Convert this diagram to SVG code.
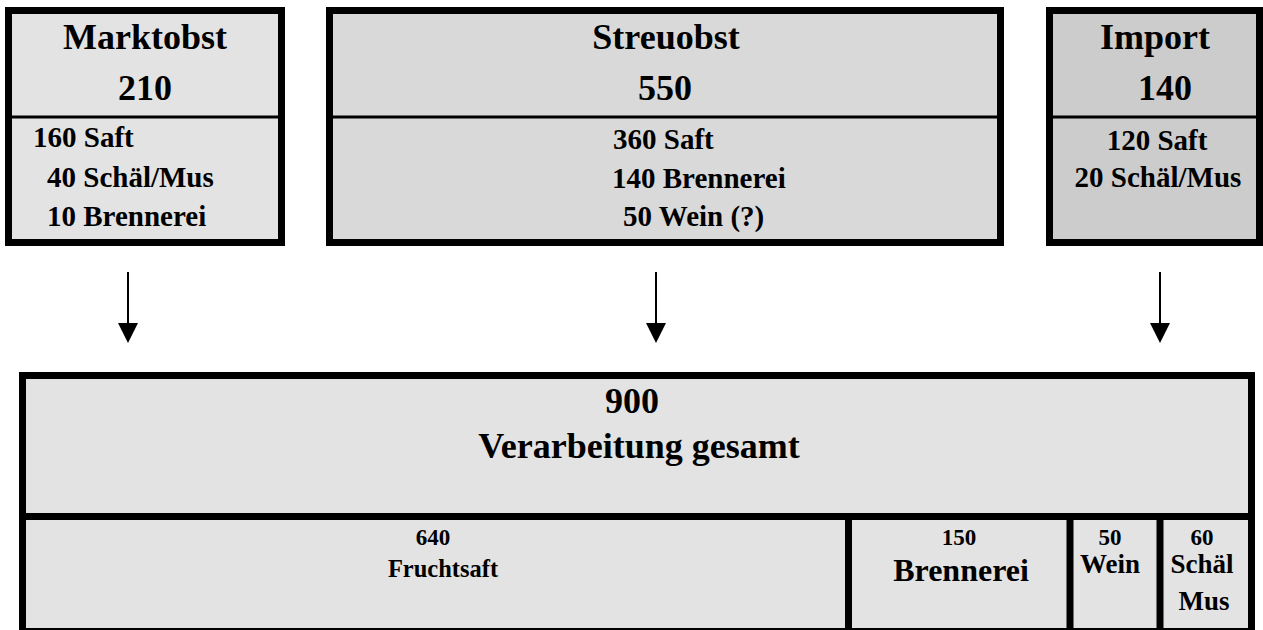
<svg xmlns="http://www.w3.org/2000/svg" width="1263" height="630" viewBox="0 0 1263 630">
  <style>
    text { font-family: "Liberation Serif", "Times New Roman", serif; font-weight: bold; fill: #000; }
    .box { stroke: #000; stroke-width: 7; }
    .div { stroke: #000; stroke-width: 3; }
    .h { font-size: 36px; text-anchor: middle; }
    .s { font-size: 29px; }
    .c { text-anchor: middle; }
    .n { font-size: 23px; text-anchor: middle; }
    .m { font-size: 27px; text-anchor: middle; }
    .conn { stroke: #000; stroke-width: 2; fill: none; }
  </style>
  <defs>
    <marker id="arrow" markerUnits="userSpaceOnUse" markerWidth="20" markerHeight="20" viewBox="0 0 20 20" refX="0" refY="10" orient="auto">
      <path d="M0,0 L20,10 L0,20 Z" fill="#000"/>
    </marker>
  </defs>

  <g id="marktobst">
    <rect class="box" x="8.5" y="10.5" width="273" height="232" fill="#e3e3e3"/>
    <line class="div" x1="12" y1="117" x2="278" y2="117"/>
    <text class="h" x="145" y="49">Marktobst</text>
    <text class="h" x="145" y="100">210</text>
    <text class="s" x="33" y="147">160 Saft</text>
    <text class="s" x="47" y="187">40 Schäl/Mus</text>
    <text class="s" x="47" y="226">10 Brennerei</text>
  </g>

  <g id="streuobst">
    <rect class="box" x="329.5" y="10.5" width="671" height="232" fill="#d9d9d9"/>
    <line class="div" x1="333" y1="117" x2="997" y2="117"/>
    <text class="h" x="666" y="49" font-size="37">Streuobst</text>
    <text class="h" x="665" y="100">550</text>
    <text class="s" x="613" y="149">360 Saft</text>
    <text class="s" x="612" y="188">140 Brennerei</text>
    <text class="s" x="623" y="226">50 Wein (?)</text>
  </g>

  <g id="import">
    <rect class="box" x="1049.5" y="10.5" width="210" height="232" fill="#cccccc"/>
    <line class="div" x1="1053" y1="117" x2="1256" y2="117"/>
    <text class="h" x="1155" y="49" font-size="39">Import</text>
    <text class="h" x="1165" y="100">140</text>
    <text class="s c" x="1157" y="150">120 Saft</text>
    <text class="s c" x="1158" y="187">20 Schäl/Mus</text>
  </g>

  <g id="connectors">
    <line class="conn" x1="128" y1="272" x2="128" y2="323" marker-end="url(#arrow)"/>
    <line class="conn" x1="656" y1="272" x2="656" y2="323" marker-end="url(#arrow)"/>
    <line class="conn" x1="1160" y1="272" x2="1160" y2="323" marker-end="url(#arrow)"/>
  </g>

  <g id="verarbeitung">
    <rect class="box" x="22.5" y="375.5" width="1229" height="256" fill="#e3e3e3"/>
    <line x1="26" y1="516.5" x2="1248" y2="516.5" stroke="#000" stroke-width="7"/>
    <line x1="848.5" y1="520" x2="848.5" y2="630" stroke="#000" stroke-width="7"/>
    <line x1="1070" y1="520" x2="1070" y2="630" stroke="#000" stroke-width="7"/>
    <line x1="1160" y1="520" x2="1160" y2="630" stroke="#000" stroke-width="7"/>
    <text class="h" x="632" y="413" font-size="34">900</text>
    <text class="h" x="639" y="458" font-size="37.5">Verarbeitung gesamt</text>
  </g>

  <g id="fruchtsaft">
    <text class="n" x="433" y="545">640</text>
    <text class="c" x="443" y="577" font-size="24.5">Fruchtsaft</text>
  </g>
  <g id="brennerei">
    <text class="n" x="959" y="545">150</text>
    <text class="c" x="961" y="581" font-size="32">Brennerei</text>
  </g>
  <g id="wein">
    <text class="n" x="1110" y="545">50</text>
    <text class="m" x="1110" y="573">Wein</text>
  </g>
  <g id="schaelmus">
    <text class="n" x="1202" y="545">60</text>
    <text class="m" x="1202" y="573">Schäl</text>
    <text class="m" x="1204" y="610">Mus</text>
  </g>
</svg>
